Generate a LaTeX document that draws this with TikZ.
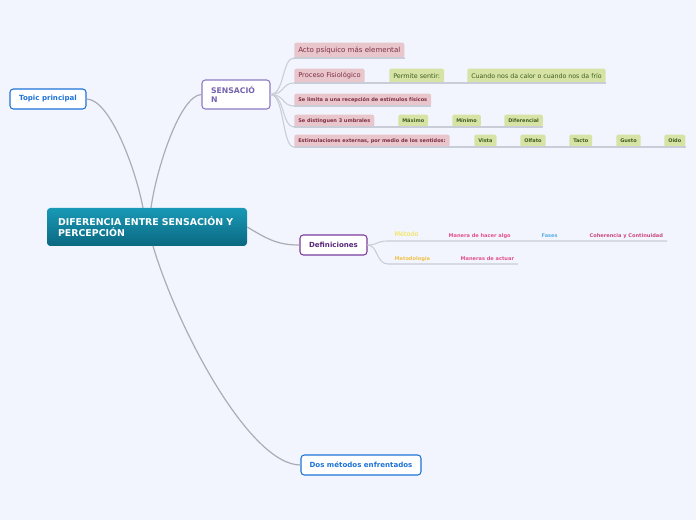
\documentclass[tikz,border=0pt]{standalone}
\usepackage{fontspec}
\usetikzlibrary{calc}
\setmainfont{DejaVu Sans}
\definecolor{bg}{HTML}{F2F5FD}
\definecolor{topicblue}{HTML}{1E73D6}
\definecolor{sensborder}{HTML}{8D7AC4}
\definecolor{senstext}{HTML}{7563AE}
\definecolor{defborder}{HTML}{7A3A9E}
\definecolor{deftext}{HTML}{5A2A7A}
\definecolor{pinkfill}{HTML}{E8C6CC}
\definecolor{pinktext}{HTML}{7D2E40}
\definecolor{greenfill}{HTML}{D6E3A5}
\definecolor{greentext}{HTML}{3F5C22}
\definecolor{subline}{HTML}{C8CDD8}
\definecolor{mainline}{HTML}{ABADB5}
\definecolor{cenTop}{HTML}{1899B6}
\definecolor{cenBot}{HTML}{0C6881}
\definecolor{metyellow}{HTML}{F5DF2E}
\definecolor{metorange}{HTML}{F0C24A}
\definecolor{defpink}{HTML}{E4508C}
\definecolor{fasesblue}{HTML}{5AB0E6}
\tikzset{
  mainbox/.style={draw, fill=white, rounded corners=2.5pt, line width=0.8pt, font=\bfseries\fontsize{5.3}{6.5}\selectfont, inner sep=0pt},
  pinkbox/.style={fill=pinkfill, text=pinktext, rounded corners=1.5pt, inner xsep=3pt, inner ysep=0pt, anchor=south west},
  greenbox/.style={fill=greenfill, text=greentext, rounded corners=1.5pt, inner xsep=3pt, inner ysep=0pt, anchor=south west},
  bigt/.style={font=\fontsize{4.8}{6}\selectfont, minimum height=10.5pt},
  smallt/.style={font=\bfseries\fontsize{3.75}{5}\selectfont, minimum height=9pt},
  deft/.style={font=\bfseries\fontsize{3.8}{5}\selectfont, inner sep=1pt, anchor=base west},
  conn/.style={draw=mainline, line width=0.9pt},
  subconn/.style={draw=subline, line width=0.8pt}
}
\begin{document}
\begin{tikzpicture}[x=0.75pt, y=-0.75pt]
\useasboundingbox (0,0) rectangle (696,520);
\fill[bg] (0,0) rectangle (696,520);

% main nodes
\node[rounded corners=2.5pt, top color=cenTop, bottom color=cenBot, draw=none, text=white,
      font=\bfseries\fontsize{7.05}{8.4}\selectfont, text width=133.5pt, align=left,
      inner xsep=8.25pt, minimum height=28.5pt] (cen) at (147,227)
      {DIFERENCIA ENTRE SENSACIÓN Y\\PERCEPCIÓN};
\node[mainbox, draw=topicblue, text=topicblue, minimum width=57pt, minimum height=15pt] (topic) at (48,99) {Topic principal};
\node[mainbox, draw=sensborder, text=senstext, font=\bfseries\fontsize{5.8}{6.8}\selectfont, text width=37.5pt, align=left, inner xsep=6.75pt, minimum height=21.75pt] (sens) at (236,94.5) {SENSACIÓ\\N};
\node[mainbox, draw=defborder, text=deftext, minimum width=50.25pt, minimum height=15pt] (def) at (333.5,245) {Definiciones};
\node[mainbox, draw=topicblue, text=topicblue, minimum width=90pt, minimum height=15pt] (dos) at (361,465) {Dos métodos enfrentados};

% main connectors
\draw[conn] (topic.east) .. controls (110,99) and (136,170) .. (143,208);
\draw[conn] (sens.west) .. controls (180,95) and (156,170) .. (151,208);
\draw[conn] (cen.east) .. controls (270,241) and (280,245) .. (def.west);
\draw[conn] (153,246) .. controls (178,330) and (250,465) .. (dos.west);

% sensacion children
\node[pinkbox, bigt, font=\fontsize{5.3}{6}\selectfont, minimum height=11.25pt] (acto) at (294,58) {Acto psíquico más elemental};
\node[pinkbox, bigt, font=\fontsize{5.0}{6}\selectfont] (proc) at (294,83) {Proceso Fisiológico};
\node[pinkbox, smallt] (lim) at (294,106) {Se limita a una recepción de estímulos físicos};
\node[pinkbox, smallt] (umb) at (294,127) {Se distinguen 3 umbrales};
\node[pinkbox, smallt] (est) at (294,147) {Estimulaciones externas, por medio de los sentidos:};

\node[greenbox, bigt] (perm) at (389,83) {Permite sentir:};
\node[greenbox, bigt, font=\fontsize{4.7}{6}\selectfont] (cuando) at (467,83) {Cuando nos da calor o cuando nos da frío};
\node[greenbox, smallt] (max) at (398,127) {Máximo};
\node[greenbox, smallt] (min) at (452,127) {Mínimo};
\node[greenbox, smallt] (dif) at (504,127) {Diferencial};
\node[greenbox, smallt] (vista) at (474,147) {Vista};
\node[greenbox, smallt] (olf) at (520,147) {Olfato};
\node[greenbox, smallt] (tacto) at (569,147) {Tacto};
\node[greenbox, smallt] (gusto) at (616,147) {Gusto};
\node[greenbox, smallt] (oido) at (664,147) {Oído};

\foreach \c in {acto,proc,lim,umb,est}{
  \draw[subconn] (sens.east) .. controls +(14,0) and ($(\c.south west)+(-12,0)$) .. (\c.south west);
}
\draw[subconn] (acto.south west) -- (acto.south east);
\draw[subconn] (proc.south west) -- (cuando.south east);
\draw[subconn] (lim.south west) -- (lim.south east);
\draw[subconn] (umb.south west) -- (dif.south east);
\draw[subconn] (est.south west) -- (oido.south east);

% definiciones children
\coordinate (r1) at (388,241);
\coordinate (r1e) at (667,241);
\coordinate (r2) at (388,264);
\coordinate (r2e) at (518,264);
\draw[subconn] (def.east) .. controls (378,245) and (376,241) .. (r1) -- (r1e);
\draw[subconn] (def.east) .. controls (378,245) and (376,264) .. (r2) -- (r2e);
\node[deft, text=metyellow, font=\fontsize{4.8}{6}\selectfont] (met) at (393,237) {Método};
\node[deft, text=defpink] (manera) at (447,237.5) {Manera de hacer algo};
\node[deft, text=fasesblue] (fases) at (540,237.5) {Fases};
\node[deft, text=defpink!90!black] (coh) at (588,237.5) {Coherencia y Continuidad};
\node[deft, text=metorange] (metod) at (393,260.5) {Metodología};
\node[deft, text=defpink] (maneras) at (459,260.5) {Maneras de actuar};
\end{tikzpicture}
\end{document}
